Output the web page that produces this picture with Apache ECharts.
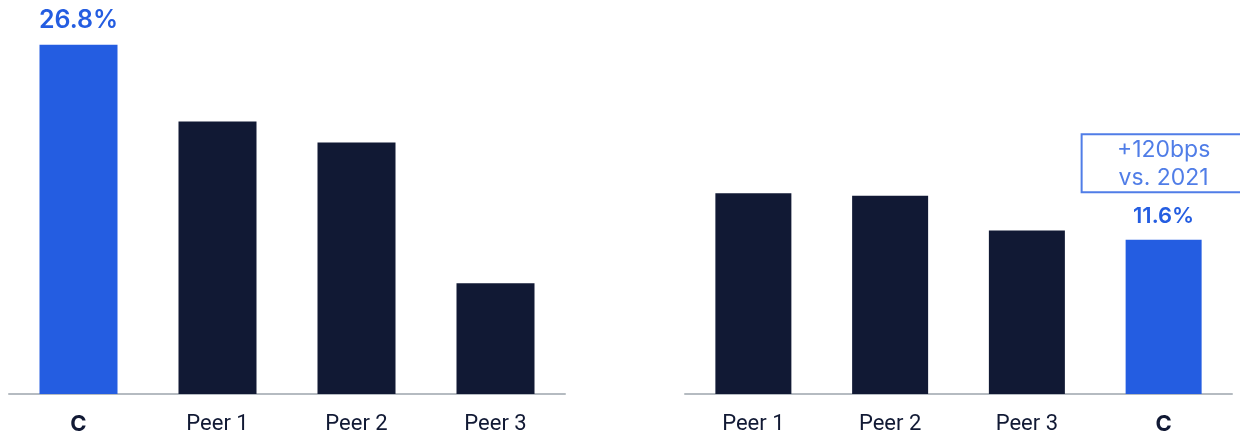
<!DOCTYPE html>
<html>
<head>
<meta charset="utf-8">
<script src="https://cdn.jsdelivr.net/npm/echarts@6/dist/echarts.min.js"></script>
<style>html,body{margin:0;padding:0;background:#fff;}#c{width:1240px;height:435px;}</style>
</head>
<body>
<div id="c"></div>
<script>
const leftCategories = ['C', 'Peer 1', 'Peer 2', 'Peer 3'];
const leftValues = [26.8, 20.9, 19.3, 8.5];
const rightCategories = ['Peer 1', 'Peer 2', 'Peer 3', 'C'];
const rightValues = [15.1, 14.9, 12.3, 11.6];
const highlightCategory = 'C';
const annotationText = '+120bps\nvs. 2021';

const BLUE = '#245de1';
const NAVY = '#111934';
const AXIS = '#b5bbc1';

function barData(cats, vals, labelSize) {
  return vals.map((v, i) => {
    const hi = cats[i] === highlightCategory;
    return {
      value: v,
      itemStyle: { color: hi ? BLUE : NAVY },
      label: hi ? {
        show: true, position: 'top', distance: 12,
        formatter: v.toFixed(1) + '%',
        color: BLUE, fontFamily: 'Inter', fontWeight: 600, fontSize: labelSize
      } : { show: false }
    };
  });
}

function xAxisCfg(gridIndex, cats) {
  return {
    type: 'category', gridIndex, data: cats,
    axisLine: { show: true, lineStyle: { color: AXIS, width: 2 } },
    axisTick: { show: false },
    axisLabel: {
      margin: 19,
      formatter: v => v === highlightCategory ? '{b|' + v + '}' : '{n|' + v + '}',
      rich: {
        n: { fontFamily: 'Roboto', fontSize: 22, color: NAVY },
        b: { fontFamily: 'Inter', fontWeight: 700, fontSize: 22, color: NAVY }
      }
    }
  };
}

function yAxisCfg(gridIndex, max) {
  return {
    type: 'value', gridIndex, min: 0, max,
    show: false, splitLine: { show: false }
  };
}

const chart = echarts.init(document.getElementById('c'), null, { renderer: 'canvas' });
chart.setOption({
  animation: false,
  backgroundColor: '#ffffff',
  grid: [
    { left: 9, width: 556, top: 3, bottom: 41 },
    { left: 685, width: 547, top: 128, bottom: 41 }
  ],
  xAxis: [xAxisCfg(0, leftCategories), xAxisCfg(1, rightCategories)],
  yAxis: [yAxisCfg(0, 30), yAxisCfg(1, 20)],
  series: [
    {
      type: 'bar', xAxisIndex: 0, yAxisIndex: 0, barWidth: 78,
      data: barData(leftCategories, leftValues, 25)
    },
    {
      type: 'bar', xAxisIndex: 1, yAxisIndex: 1, barWidth: 76,
      data: barData(rightCategories, rightValues, 22)
    },
    {
      type: 'scatter', xAxisIndex: 1, yAxisIndex: 1,
      symbolSize: 1, itemStyle: { color: 'rgba(0,0,0,0)' },
      data: [[highlightCategory, rightValues[rightCategories.indexOf(highlightCategory)]]],
      label: {
        show: true, position: 'top', distance: 47,
        formatter: annotationText,
        color: BLUE, fontFamily: 'Inter', fontSize: 23, lineHeight: 28,
        align: 'center', width: 164, padding: [2, 0, 0, 0],
        borderColor: BLUE, borderWidth: 2
      }
    }
  ]
});
</script>
</body>
</html>
